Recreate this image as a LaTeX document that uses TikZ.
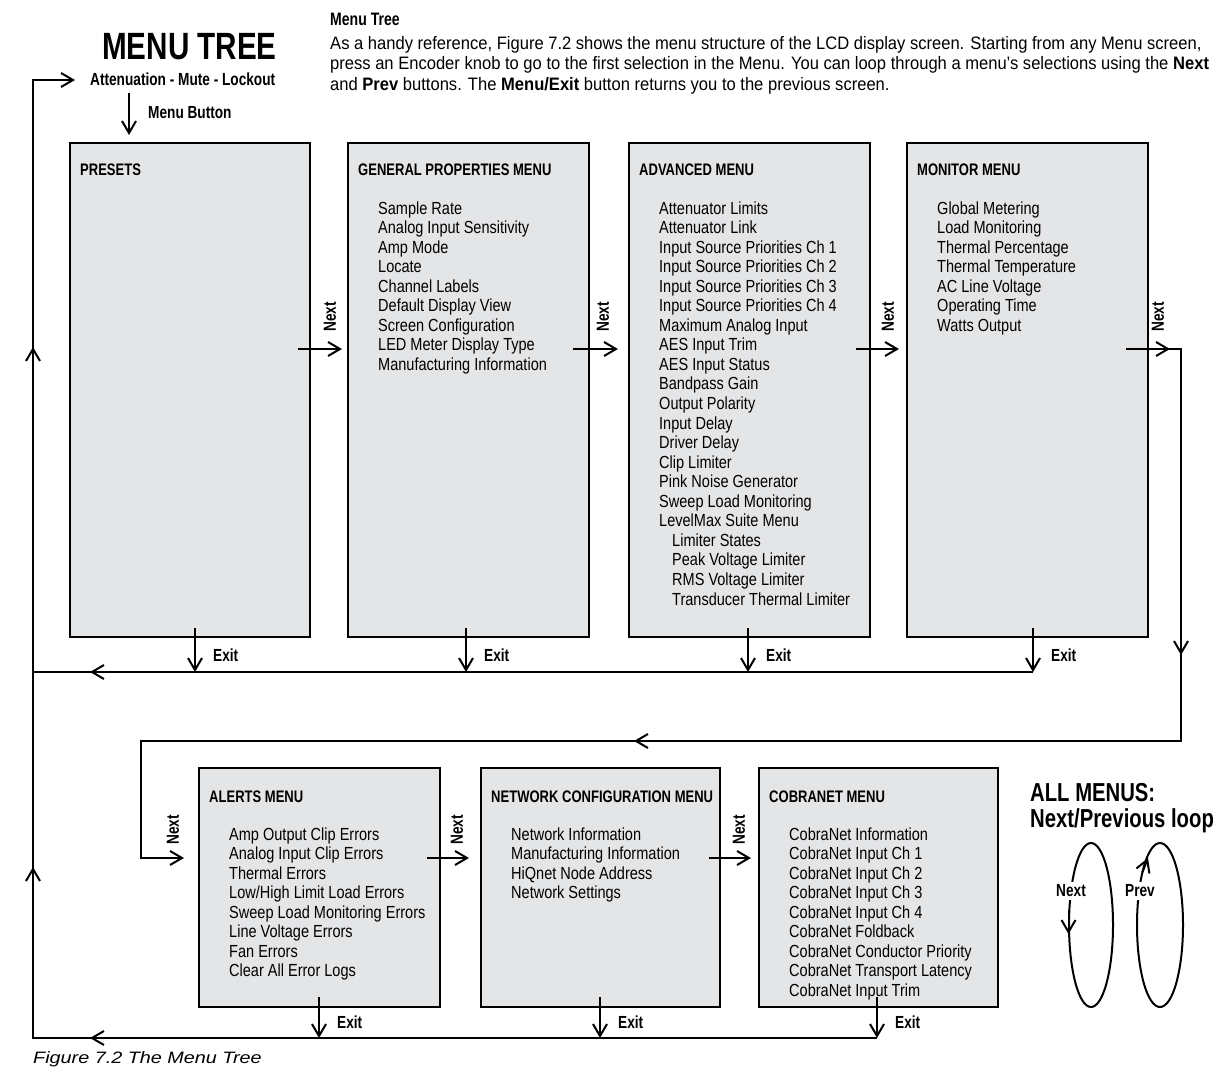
\documentclass[tikz,border=0pt]{standalone}
\usepackage{fontspec}
\setmainfont{Liberation Sans}
\newfontfamily\rgfont{Liberation Sans}[FakeStretch=0.83]
\newfontfamily\bdfont{Liberation Sans}[FakeStretch=0.78]
\newfontfamily\parfont{Liberation Sans}[FakeStretch=0.92]
\newfontfamily\capfont{Liberation Sans}[FakeStretch=1.2]
\usetikzlibrary{arrows.meta,decorations.markings}
\definecolor{boxgray}{HTML}{E4E5E7}
\tikzset{
  menubox/.style={draw, line width=2.2pt, fill=boxgray, anchor=north west, inner sep=0pt, outer sep=0pt},
  conn/.style={line width=2pt},
  arr/.style={conn, -{Straight Barb[length=12pt,width=14pt]}},
  chev/.style={postaction={decorate, decoration={markings, mark=at position #1 with {\arrow[line width=2pt]{Straight Barb[length=12pt,width=14pt]}}}}},
  txt/.style={inner sep=0pt, anchor=base west},
  itm/.style={txt, font=\rgfont\fontsize{17.5}{20}\selectfont},
  ttl/.style={txt, font=\bdfont\bfseries\fontsize{16.7}{20}\selectfont},
  lbl/.style={inner sep=0pt, font=\bdfont\bfseries\fontsize{17.5}{20}\selectfont},
  para/.style={txt, font=\parfont\fontsize{18}{21}\selectfont},
}
\newcommand\itemlist[4]{\foreach \t [count=\i from 0] in {#4} {\node[itm] (#3\i) at (#1,{#2+\i*19.55}) {\t};}}
\begin{document}
\begin{tikzpicture}[x=1pt,y=-1pt]
\useasboundingbox (0,0) rectangle (1217,1068);
% header texts
\node[txt, font=\bdfont\bfseries\fontsize{38}{44}\selectfont] (title) at (102,59) {MENU TREE};
\node[lbl, anchor=base west] (att) at (90,85) {Attenuation - Mute - Lockout};
\node[lbl, anchor=base west] (mb) at (148,118) {Menu Button};
\node[txt, font=\bdfont\bfseries\fontsize{18}{21}\selectfont] (hd) at (330,25) {Menu Tree};
\node[para] (p1) at (330,49) {As a handy reference, Figure 7.2 shows the menu structure of the LCD display screen. Starting from any Menu screen,};
\node[para] (p2) at (330,69.5) {press an Encoder knob to go to the first selection in the Menu. You can loop through a menu’s selections using the \textbf{Next}};
\node[para] (p3) at (330,90) {and \textbf{Prev} buttons. The \textbf{Menu/Exit} button returns you to the previous screen.};

% boxes
\node[menubox, minimum width=240pt, minimum height=494pt] (p) at (70,143) {};
\node[menubox, minimum width=241pt, minimum height=494pt] (g) at (348,143) {};
\node[menubox, minimum width=241pt, minimum height=494pt] (a) at (629,143) {};
\node[menubox, minimum width=241pt, minimum height=494pt] (m) at (907,143) {};
\node[menubox, minimum width=241pt, minimum height=239pt] (al) at (199,768) {};
\node[menubox, minimum width=239pt, minimum height=239pt] (nw) at (481,768) {};
\node[menubox, minimum width=239pt, minimum height=239pt] (cb) at (759,768) {};

% titles
\node[ttl] (pT) at (80,175) {PRESETS};
\node[ttl] (gT) at (358,175) {GENERAL PROPERTIES MENU};
\node[ttl] (aT) at (639,175) {ADVANCED MENU};
\node[ttl] (mT) at (917,175) {MONITOR MENU};
\node[ttl] (alT) at (209,802) {ALERTS MENU};
\node[ttl] (nwT) at (491,802) {NETWORK CONFIGURATION MENU};
\node[ttl] (cbT) at (769,802) {COBRANET MENU};

% item lists
\itemlist{378}{214}{gi}{Sample Rate,Analog Input Sensitivity,Amp Mode,Locate,Channel Labels,Default Display View,Screen Configuration,LED Meter Display Type,Manufacturing Information}
\itemlist{659}{214}{ai}{Attenuator Limits,Attenuator Link,Input Source Priorities Ch 1,Input Source Priorities Ch 2,Input Source Priorities Ch 3,Input Source Priorities Ch 4,Maximum Analog Input,AES Input Trim,AES Input Status,Bandpass Gain,Output Polarity,Input Delay,Driver Delay,Clip Limiter,Pink Noise Generator,Sweep Load Monitoring,LevelMax Suite Menu,{\hspace*{13pt}Limiter States},{\hspace*{13pt}Peak Voltage Limiter},{\hspace*{13pt}RMS Voltage Limiter},{\hspace*{13pt}Transducer Thermal Limiter}}
\itemlist{937}{214}{mi}{Global Metering,Load Monitoring,Thermal Percentage,Thermal Temperature,AC Line Voltage,Operating Time,Watts Output}
\itemlist{229}{840}{li}{Amp Output Clip Errors,Analog Input Clip Errors,Thermal Errors,Low/High Limit Load Errors,Sweep Load Monitoring Errors,Line Voltage Errors,Fan Errors,Clear All Error Logs}
\itemlist{511}{840}{ni}{Network Information,Manufacturing Information,HiQnet Node Address,Network Settings}
\itemlist{789}{840}{ci}{CobraNet Information,CobraNet Input Ch 1,CobraNet Input Ch 2,CobraNet Input Ch 3,CobraNet Input Ch 4,CobraNet Foldback,CobraNet Conductor Priority,CobraNet Transport Latency,CobraNet Input Trim}

% coordinates
\coordinate (mbS) at (129,93);
\coordinate (mbE) at (129,135);
\coordinate (xTL) at (33,672);
\coordinate (xTR) at (1033,672);
\coordinate (xBL) at (33,1038);
\coordinate (xBR) at (877,1038);
\coordinate (lTop) at (33,80);
\coordinate (attE) at (75,80);

% menu button
\draw[arr] (mbS) -- (mbE);

% exit arrows top row
\foreach \x/\n in {195/p,466/g,748/a,1033/m}{
  \draw[arr] (\x,628) -- (\x,672);
  \node[lbl, anchor=base west] (ex\n) at (\x+18,661) {Exit};
}
% exit arrows bottom row
\foreach \x/\n in {319/al,600/nw,877/cb}{
  \draw[arr] (\x,997) -- (\x,1038);
  \node[lbl, anchor=base west] (ex\n) at (\x+18,1028) {Exit};
}
% exit return lines
\draw[conn, chev=943pt] (xTR) -- (xTL);
\draw[conn, chev=787pt, chev=1015pt, chev=1535pt, -{Straight Barb[length=12pt,width=14pt]}] (xBR) -- (xBL) -- (lTop) -- (attE);

% next arrows top row
\draw[arr] (298,349) -- (342,349);
\draw[arr] (573,349) -- (618,349);
\draw[arr] (856,349) -- (899,349);
\node[lbl, rotate=90] (n1) at (330,317) {Next};
\node[lbl, rotate=90] (n2) at (603,317) {Next};
\node[lbl, rotate=90] (n3) at (888,317) {Next};
\node[lbl, rotate=90] (n4) at (1158,317) {Next};
% long next path
\coordinate (r0) at (1126,349);
\coordinate (r1) at (1181,349);
\coordinate (r2) at (1181,741);
\coordinate (r3) at (141,741);
\coordinate (r4) at (141,858);
\coordinate (r5) at (184,858);
\draw[conn, chev=44pt, chev=361pt, chev=994pt, -{Straight Barb[length=12pt,width=14pt]}] (r0) -- (r1) -- (r2) -- (r3) -- (r4) -- (r5);
% next arrows bottom row
\node[lbl, rotate=90] (n5) at (173,830) {Next};
\draw[arr] (427,858) -- (469,858);
\node[lbl, rotate=90] (n6) at (457,830) {Next};
\draw[arr] (709,858) -- (751,858);
\node[lbl, rotate=90] (n7) at (739,830) {Next};

% all menus
\node[txt, font=\bdfont\bfseries\fontsize{26}{30}\selectfont] (am1) at (1030,801) {ALL MENUS:};
\node[txt, font=\bdfont\bfseries\fontsize{26}{30}\selectfont] (am2) at (1030,827) {Next/Previous loop};
\draw[conn] (1091,925) ellipse [x radius=22pt, y radius=82pt];
\node[lbl, fill=white, inner sep=3pt] (lpn) at (1071,891) {Next};
\draw[arr] (1068.5,910) -- (1068.5,934);
\draw[conn] (1160,925) ellipse [x radius=23pt, y radius=82pt];
\node[lbl, fill=white, inner sep=3pt] (lpp) at (1140,891) {Prev};
\draw[arr] (1142.4,872.2) -- (1148,858);

% caption
\node[txt, font=\capfont\itshape\fontsize{16.5}{20}\selectfont] (cap) at (33,1063) {Figure 7.2 The Menu Tree};
\end{tikzpicture}
\end{document}
